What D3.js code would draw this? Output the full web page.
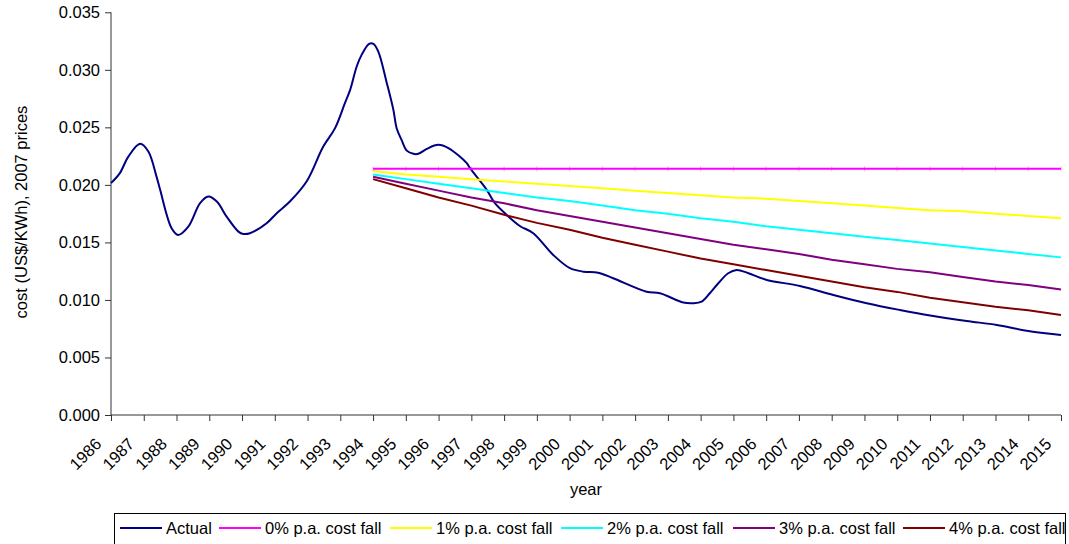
<!DOCTYPE html>
<html>
<head>
<meta charset="utf-8">
<style>
body { margin: 0; background: #fff; }
svg { display: block; font-family: "Liberation Sans", Arial, sans-serif; }
.axis path, .axis line { stroke: #333; }
.axis text { font-size: 16.5px; fill: #000; }
</style>
</head>
<body>
<svg id="chart" width="1069" height="544"></svg>
<script src="https://d3js.org/d3.v7.min.js"></script>
<script>
// x-axis categories
let years = d3.range(1986, 2016);

// actual cost
let actualYears = [1986.00, 1986.27, 1986.53, 1986.89, 1987.14, 1987.39, 1987.50, 1987.85, 1988.05, 1988.36,
    1988.72, 1988.97, 1989.23, 1989.53, 1989.89, 1990.04, 1990.24, 1990.75, 1991.06, 1991.46,
    1991.97, 1992.48, 1992.84, 1993.14, 1993.30, 1993.50, 1993.65, 1993.88, 1994.01, 1994.16,
    1994.42, 1994.62, 1994.72, 1994.87, 1995.03, 1995.23, 1995.38, 1995.64, 1995.99, 1996.30,
    1996.86, 1996.96, 1997.47, 1997.72, 1998.08, 1998.48, 1998.89, 1999.50, 2000.01, 2000.42,
    2000.87, 2001.33, 2002.35, 2002.76, 2003.47, 2003.77, 2004.03, 2004.28, 2004.54, 2004.84,
    2005.10, 2005.46, 2006.02, 2007.03, 2008.05, 2009.07, 2010.08, 2011.10, 2012.12, 2013.04,
    2013.95, 2015.00];
let actualValues = [0.02015, 0.02102, 0.02246, 0.02357, 0.02290, 0.02072, 0.01957, 0.01623, 0.01565, 0.01637,
    0.01841, 0.01898, 0.01855, 0.01724, 0.01594, 0.01574, 0.01580, 0.01667, 0.01754, 0.01855,
    0.02029, 0.02333, 0.02493, 0.02710, 0.02826, 0.03029, 0.03130, 0.03226, 0.03226, 0.03159,
    0.02884, 0.02652, 0.02493, 0.02391, 0.02298, 0.02270, 0.02270, 0.02313, 0.02348, 0.02319,
    0.02189, 0.02145, 0.01957, 0.01841, 0.01739, 0.01643, 0.01580, 0.01391, 0.01276, 0.01246,
    0.01237, 0.01189, 0.01072, 0.01058, 0.00977, 0.00971, 0.00985, 0.01058, 0.01145, 0.01232,
    0.01261, 0.01232, 0.01174, 0.01122, 0.01043, 0.00971, 0.00913, 0.00861, 0.00817, 0.00783,
    0.00733, 0.00696];

// projections 1994-2015
let projYears = d3.range(1994, 2016);
let fall0 = [0.0214, 0.0214, 0.0214, 0.0214, 0.0214, 0.0214, 0.0214, 0.0214, 0.0214, 0.0214, 0.0214,
    0.0214, 0.0214, 0.0214, 0.0214, 0.0214, 0.0214, 0.0214, 0.0214, 0.0214, 0.0214, 0.0214];
let fall1 = [0.0212, 0.0209, 0.0207, 0.0205, 0.0203, 0.0201, 0.0199, 0.0197, 0.0195, 0.0193, 0.0191,
    0.0189, 0.0188, 0.0186, 0.0184, 0.0182, 0.0180, 0.0178, 0.0177, 0.0175, 0.0173, 0.0171];
let fall2 = [0.0209, 0.0205, 0.0201, 0.0197, 0.0193, 0.0189, 0.0186, 0.0182, 0.0178, 0.0175, 0.0171,
    0.0168, 0.0164, 0.0161, 0.0158, 0.0155, 0.0152, 0.0149, 0.0146, 0.0143, 0.0140, 0.0137];
let fall3 = [0.0207, 0.0201, 0.0195, 0.0189, 0.0184, 0.0178, 0.0173, 0.0168, 0.0163, 0.0158, 0.0153,
    0.0148, 0.0144, 0.0140, 0.0135, 0.0131, 0.0127, 0.0124, 0.0120, 0.0116, 0.0113, 0.0109];
let fall4 = [0.0205, 0.0197, 0.0189, 0.0182, 0.0174, 0.0167, 0.0161, 0.0154, 0.0148, 0.0142, 0.0136,
    0.0131, 0.0126, 0.0121, 0.0116, 0.0111, 0.0107, 0.0102, 0.0098, 0.0094, 0.0091, 0.0087];

let yTicks = [0, 0.005, 0.010, 0.015, 0.020, 0.025, 0.030, 0.035];

let series = [
    {name: "Actual", color: "#000080", x: actualYears, y: actualValues},
    {name: "0% p.a. cost fall", color: "#ff00ff", x: projYears, y: fall0},
    {name: "1% p.a. cost fall", color: "#ffff00", x: projYears, y: fall1},
    {name: "2% p.a. cost fall", color: "#00ffff", x: projYears, y: fall2},
    {name: "3% p.a. cost fall", color: "#800080", x: projYears, y: fall3},
    {name: "4% p.a. cost fall", color: "#800000", x: projYears, y: fall4}
];

let svg = d3.select("#chart");
let plotLeft = 111, plotRight = 1061, plotTop = 12.3, plotBottom = 415;

let xScale = d3.scaleLinear().domain([1986, 2015]).range([plotLeft, plotRight]);
let yScale = d3.scaleLinear().domain([0, 0.035]).range([plotBottom, plotTop]);

// y axis
svg.append("g")
    .attr("class", "axis")
    .attr("transform", "translate(" + plotLeft + ",0)")
    .call(d3.axisLeft(yScale).tickValues(yTicks).tickFormat(d3.format(".3f")).tickSize(6).tickPadding(5))
    .call(g => g.select(".domain").attr("d", "M0," + plotTop + "V" + plotBottom));

// x axis
let xAxis = svg.append("g")
    .attr("class", "axis")
    .attr("transform", "translate(0," + plotBottom + ")")
    .call(d3.axisBottom(xScale).tickValues(years).tickFormat(d3.format("d")).tickSize(6))
    .call(g => g.select(".domain").attr("d", "M" + plotLeft + ",0H" + plotRight));
xAxis.selectAll("text")
    .attr("text-anchor", "end")
    .attr("dy", null)
    .attr("y", null)
    .attr("transform", "translate(-12,27) rotate(-45)")
    .attr("dominant-baseline", "middle");

// axis titles
svg.append("text")
    .attr("transform", "translate(27,212) rotate(-90)")
    .attr("text-anchor", "middle")
    .style("font-size", "16.5px")
    .text("cost (US$/KWh), 2007 prices");
svg.append("text")
    .attr("x", (plotLeft + plotRight) / 2)
    .attr("y", 495)
    .attr("text-anchor", "middle")
    .style("font-size", "16.5px")
    .text("year");

// lines
let line = d3.line()
    .x(d => xScale(d[0]))
    .y(d => yScale(d[1]));

series.forEach(function(s, i) {
    let pts = s.x.map((v, j) => [v, s.y[j]]);
    svg.append("path")
        .datum(pts)
        .attr("fill", "none")
        .attr("stroke", s.color)
        .attr("stroke-width", 2)
        .attr("d", line.curve(i === 0 ? d3.curveCatmullRom : d3.curveLinear));
});

// small marks on the flat line
svg.append("g").selectAll("line")
    .data(projYears.map((v, j) => [v, fall0[j]]))
    .join("line")
    .attr("x1", d => xScale(d[0]))
    .attr("x2", d => xScale(d[0]))
    .attr("y1", d => yScale(d[1]) - 2.5)
    .attr("y2", d => yScale(d[1]) + 2.5)
    .attr("stroke", "#ff00ff")
    .attr("stroke-opacity", 0.35)
    .attr("stroke-width", 1);

// legend
let legend = svg.append("g");
legend.append("rect")
    .attr("x", 114.5).attr("y", 513.5)
    .attr("width", 951).attr("height", 40)
    .attr("fill", "#fff").attr("stroke", "#000");
let legendX = [120, 219, 390, 561, 733, 903];
series.forEach(function(s, i) {
    legend.append("line")
        .attr("x1", legendX[i]).attr("x2", legendX[i] + 42)
        .attr("y1", 528).attr("y2", 528)
        .attr("stroke", s.color).attr("stroke-width", 2);
    legend.append("text")
        .attr("x", legendX[i] + 46).attr("y", 534)
        .style("font-size", "16.5px")
        .text(s.name);
});
</script>
</body>
</html>
